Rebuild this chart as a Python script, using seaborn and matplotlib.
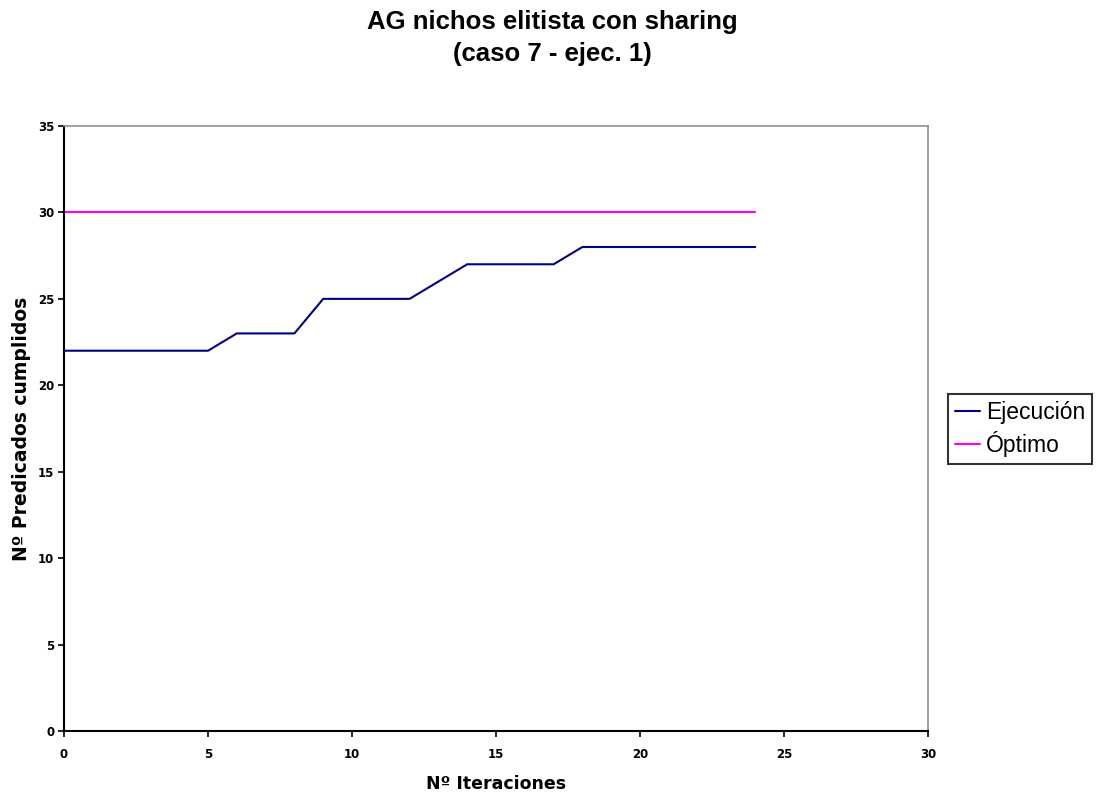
import matplotlib
matplotlib.use("Agg")
import matplotlib.pyplot as plt
import seaborn as sns
import pandas as pd

iteraciones = list(range(0, 25))
ejecucion = [22, 22, 22, 22, 22, 22, 23, 23, 23, 25, 25, 25, 25, 26, 27, 27, 27, 27, 28, 28, 28, 28, 28, 28, 28]
optimo = [30] * 25
series_names = ["Ejecución", "Óptimo"]
series_colors = ["#000080", "#FF00FF"]
title_lines = ["AG nichos elitista con sharing", "(caso 7 - ejec. 1)"]

df = pd.concat([
    pd.DataFrame({"x": iteraciones, "y": ejecucion, "serie": series_names[0]}),
    pd.DataFrame({"x": iteraciones, "y": optimo, "serie": series_names[1]}),
])

sns.set_theme(style="white")
plt.rcParams['font.family'] = ['Liberation Sans', 'DejaVu Sans']
plt.rcParams['text.color'] = 'black'
plt.rcParams['axes.labelcolor'] = 'black'

W, H = 1104, 796
fig = plt.figure(figsize=(W / 100, H / 100), dpi=100)
ax = fig.add_axes([64 / W, 1 - 731 / H, (928 - 64) / W, (731 - 126) / H])
sns.lineplot(data=df, x="x", y="y", hue="serie", palette=dict(zip(series_names, series_colors)),
             ax=ax, linewidth=1.5, legend=True)

ax.set_xlim(0, 30)
ax.set_ylim(0, 35)
ax.set_xticks(range(0, 31, 5))
ax.set_yticks(range(0, 36, 5))
ax.tick_params(axis="both", labelsize=8.5, length=4, width=1.2, direction="out", colors="black")
ax.tick_params(axis="x", pad=8)
ax.tick_params(axis="y", pad=3)
for lab in ax.get_xticklabels() + ax.get_yticklabels():
    lab.set_fontweight("bold")
    lab.set_family(["DejaVu Sans"])
ax.xaxis.set_ticks_position("bottom")
ax.yaxis.set_ticks_position("left")

for s in ["left", "bottom"]:
    ax.spines[s].set_color("black")
    ax.spines[s].set_linewidth(1.5)
for s in ["top", "right"]:
    ax.spines[s].set_color("#909090")
    ax.spines[s].set_linewidth(1.2)

ax.set_xlabel("Nº Iteraciones", fontsize=12.5, fontweight="bold", family=["DejaVu Sans"])
ax.set_ylabel("Nº Predicados cumplidos", fontsize=13.5, fontweight="bold", family=["DejaVu Sans"])
ax.xaxis.set_label_coords(0.5, -(784 - 731) / (731 - 126))
ax.yaxis.set_label_coords(-(64 - 22) / (928 - 64), 0.5)
ax.xaxis.label.set_va("center")
ax.yaxis.label.set_va("center")

fig.text(0.5, 1 - 22 / H, title_lines[0], ha="center", va="center", fontsize=18.5, fontweight="bold")
fig.text(0.5, 1 - 54 / H, title_lines[1], ha="center", va="center", fontsize=18.5, fontweight="bold")

handles, labels = ax.get_legend_handles_labels()
leg = ax.legend(handles, labels, loc="upper left", bbox_to_anchor=(948 / W, 1 - 394 / H),
                bbox_transform=fig.transFigure, fontsize=16.5,
                frameon=True, fancybox=False, edgecolor="black", handlelength=1.1, handletextpad=0.25,
                borderpad=0.3, labelspacing=0.3, borderaxespad=0)
leg.get_frame().set_linewidth(1.5)
for line in leg.get_lines():
    line.set_linewidth(1.5)

fig.savefig("out.png", dpi=100)
